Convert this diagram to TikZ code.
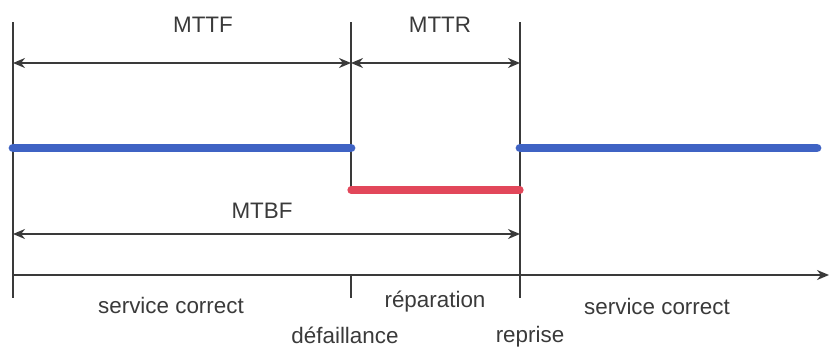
\documentclass[tikz,border=0pt]{standalone}
\usepackage{fontspec}
\setmainfont{Liberation Sans}
\usetikzlibrary{arrows.meta}
\definecolor{ink}{HTML}{3A3A3A}
\definecolor{upblue}{HTML}{3F63C4}
\definecolor{downred}{HTML}{E2475A}
\begin{document}
\begin{tikzpicture}[x=0.5pt,y=-0.5pt,
  guide/.style={draw=ink,line width=0.8pt},
  span/.style={draw=ink,line width=0.7pt,{Stealth[length=6pt,width=5pt]}-{Stealth[length=6pt,width=5pt]}},
  state/.style={line width=4.4pt,line cap=round},
  lbl/.style={text=ink,font=\fontsize{11.2}{13}\selectfont,inner sep=0pt}]
\useasboundingbox (0,0) rectangle (830,349);
% time marks
\coordinate (t0top) at (13,22);
\coordinate (t0bot) at (13,298);
\coordinate (t1top) at (351,22);
\coordinate (t1low) at (351,190);
\coordinate (t1ax) at (351,275);
\coordinate (t1tick) at (351,298);
\coordinate (t2top) at (520,22);
\coordinate (t2bot) at (520,298);
\coordinate (axend) at (829,275);
% vertical guides
\draw[guide] (t0top) -- (t0bot);
\draw[guide] (t1top) -- (t1low);
\draw[guide] (t1ax) -- (t1tick);
\draw[guide] (t2top) -- (t2bot);
% time axis
\draw[guide,-{Stealth[length=6pt,width=5pt]}] (13,275) -- (axend);
% service states
\draw[state,upblue] (13,148) coordinate (b0) -- (351,148) coordinate (b1);
\draw[state,upblue] (520,148) coordinate (b2) -- (817,148) coordinate (b3);
\draw[state,downred,line width=3.6pt] (351,190) coordinate (r0) -- (520,190) coordinate (r1);
% durations
\coordinate (a0) at (13,63);
\coordinate (a1) at (351,63);
\coordinate (a2) at (520,63);
\coordinate (m0) at (13,234);
\coordinate (m2) at (520,234);
\draw[span] (a0) -- (a1);
\draw[span] (a1) -- (a2);
\draw[span] (m0) -- (m2);
% labels
\node[lbl] (mttf) at (203,25) {MTTF};
\node[lbl] (mttr) at (440,25) {MTTR};
\node[lbl] (mtbf) at (262,211) {MTBF};
\node[lbl] (sc1) at (171,305) {service correct};
\node[lbl] (rep) at (435,302) {réparation};
\node[lbl] (sc2) at (657,306) {service correct};
\node[lbl] (def) at (345,335) {défaillance};
\node[lbl] (rpr) at (530,337) {reprise};
\end{tikzpicture}
\end{document}
